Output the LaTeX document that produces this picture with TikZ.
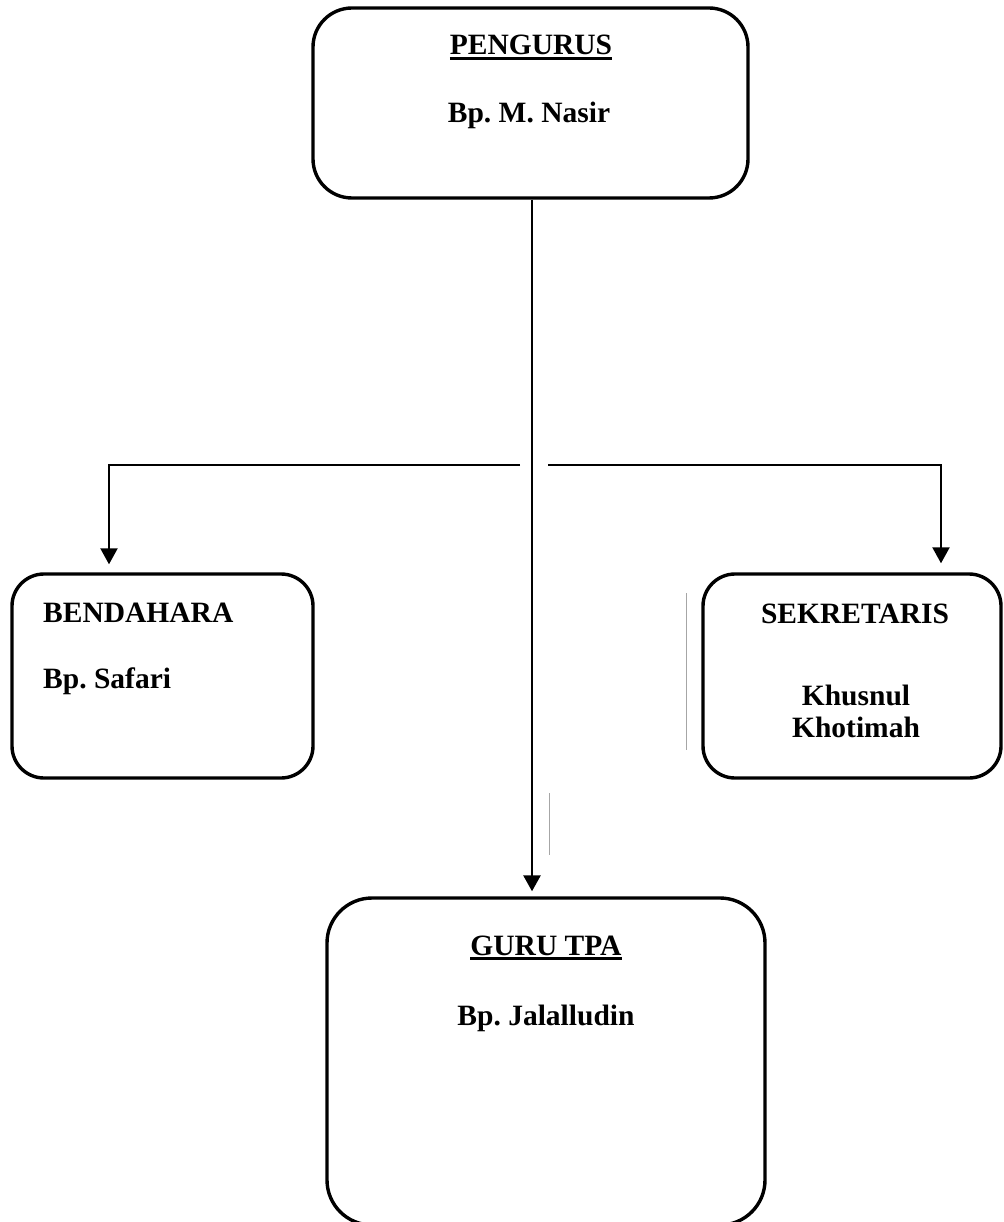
\documentclass[tikz,border=0pt]{standalone}
\usepackage{fontspec}
\setmainfont{Liberation Serif}
\usetikzlibrary{arrows.meta}
\frenchspacing
\newcommand{\myul}[1]{{\setbox0\hbox{#1}\rlap{\rule[-5pt]{\wd0}{2.6pt}}\box0}}
\begin{document}
\begin{tikzpicture}[x=1pt,y=-1pt,
  box/.style={draw=black, line width=3.4pt, rounded corners=#1, inner sep=0pt},
  box/.default=39pt,
  lbl/.style={inner sep=0pt, anchor=base, font=\fontsize{29.5}{32}\selectfont\bfseries\frenchspacing},
  lbll/.style={lbl, anchor=base west},
  conn/.style={draw=black, line width=2.2pt},
  arr/.style={conn, -{Triangle[width=17pt,length=16pt]}},
  faint/.style={draw=black!35, line width=0.8pt}]
\useasboundingbox (0,0) rectangle (1003,1222);
% boxes
\node[box, minimum width=435pt, minimum height=190pt] (top) at (530.5,103) {};
\node[box=32pt, minimum width=301pt, minimum height=204pt] (bend) at (162.5,676) {};
\node[box=32pt, minimum width=298pt, minimum height=204pt] (sekr) at (852,676) {};
\node[box=45pt, minimum width=438pt, minimum height=327pt] (guru) at (546,1061.5) {};
% texts
\node[lbl] (t1) at (531,55) {\myul{PENGURUS}};
\node[lbl] (t2) at (529,123) {Bp. M. Nasir};
\node[lbll] (t3) at (43,622) {BENDAHARA};
\node[lbll] (t4) at (43,688) {Bp. Safari};
\node[lbl] (t5) at (855,623) {SEKRETARIS};
\node[lbl] (t6) at (856,705) {Khusnul};
\node[lbl] (t7) at (856,737) {Khotimah};
\node[lbl] (t8) at (546,955) {\myul{GURU TPA}};
\node[lbl] (t9) at (546,1025) {Bp. Jalalludin};
% connectors
\coordinate (vx) at (532,0);
\draw[arr, line width=2.7pt, shorten >=5pt] (top.south -| vx) -- (guru.north -| vx);
\coordinate (gapL) at (520,465);
\coordinate (gapR) at (548,465);
\coordinate (lk) at (109,465);
\coordinate (rk) at (941,465);
\draw[arr, shorten >=8pt] (gapL) -- (lk) -- (lk |- bend.north);
\draw[arr, shorten >=9pt] (gapR) -- (rk) -- (rk |- sekr.north);
% faint stray lines
\coordinate (f1a) at (686,593);
\coordinate (f1b) at (686,750);
\coordinate (f2a) at (549,793);
\coordinate (f2b) at (549,855);
\draw[faint] (f1a) -- (f1b);
\draw[faint] (f2a) -- (f2b);
\end{tikzpicture}
\end{document}
